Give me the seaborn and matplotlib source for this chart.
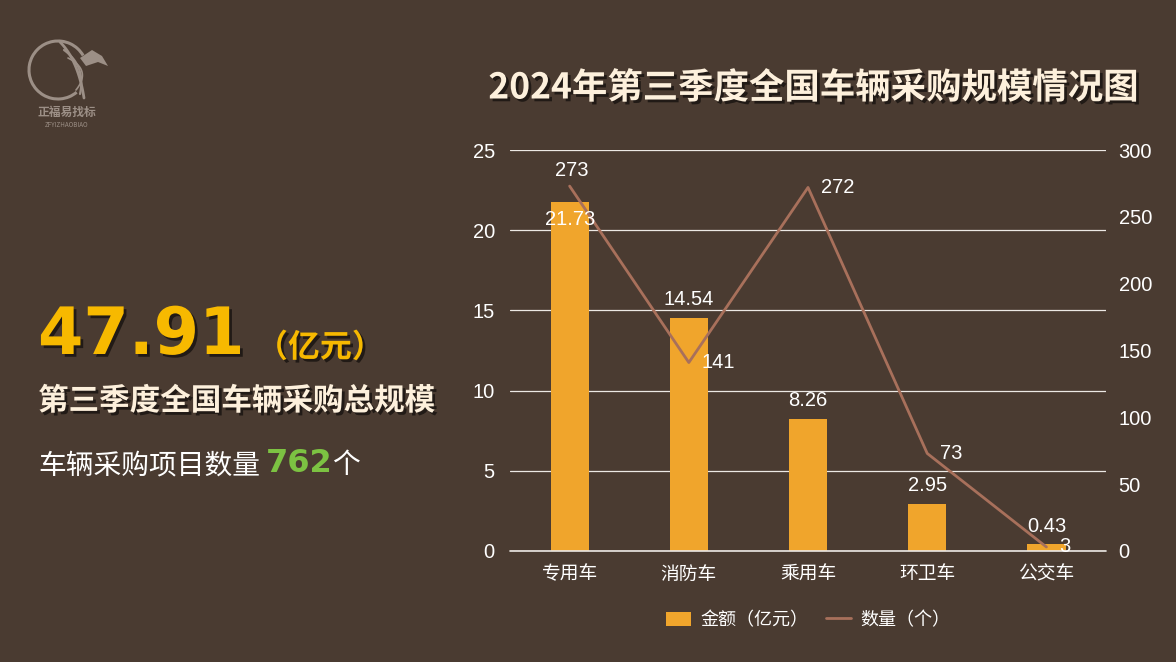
import matplotlib
matplotlib.use('Agg')
import matplotlib.pyplot as plt
import matplotlib.patheffects as pe
from matplotlib.patches import Arc, Rectangle, Polygon
from matplotlib.lines import Line2D
import seaborn as sns
import pandas as pd
import numpy as np

# ---------------- data ----------------
categories = ['专用车', '消防车', '乘用车', '环卫车', '公交车']
amounts = [21.73, 14.54, 8.26, 2.95, 0.43]          # 金额（亿元）
counts = [273, 141, 272, 73, 3]                      # 数量（个）
amount_ticks = [0, 5, 10, 15, 20, 25]
count_ticks = [0, 50, 100, 150, 200, 250, 300]
total_amount = '47.91'
total_projects = '762'

# ---------------- style ----------------
BG = '#4a3b31'
BAR = '#f0a52c'
LINE = '#a8705b'
CREAM = '#fdf0dc'
WHITE = '#ffffff'
GRID = '#ece8e4'
NUMFONT = ['Liberation Sans', 'DejaVu Sans']

sns.set_theme(style='white')
plt.rcParams['font.family'] = ['Noto Sans CJK SC', 'DejaVu Sans']
plt.rcParams['axes.unicode_minus'] = False

fig = plt.figure(figsize=(11.76, 6.62), dpi=100, facecolor=BG)

# overlay in pixel coordinates for free text / logo
ov = fig.add_axes([0, 0, 1, 1], zorder=0)
ov.set_xlim(0, 1176)
ov.set_ylim(662, 0)
ov.axis('off')

# ---------------- main chart ----------------
ax = fig.add_axes([0.4337, 0.1677, 0.5068, 0.6057], zorder=2)
ax.set_facecolor('none')
df = pd.DataFrame({'cat': categories, 'amount': amounts, 'count': counts})
sns.barplot(data=df, x='cat', y='amount', color=BAR, saturation=1,
            width=0.32, linewidth=0, edgecolor='none', ax=ax, zorder=3)
ax.set_xlim(-0.5, 4.5)
ax.set_ylim(0, 25)
ax.set_yticks(amount_ticks)
ax.set_xlabel('')
ax.set_ylabel('')
ax.grid(axis='y', color=GRID, lw=0.9, zorder=0)
ax.set_axisbelow(True)
ax.axhline(0, color=GRID, lw=1.2, clip_on=False, zorder=4)
for s in ax.spines.values():
    s.set_visible(False)
ax.tick_params(axis='y', length=0, pad=11, labelsize=14.5, labelcolor=WHITE)
ax.tick_params(axis='x', length=0, pad=9, labelsize=13.5, labelcolor=WHITE)
for lab in ax.get_yticklabels():
    lab.set_family(NUMFONT)

ax2 = ax.twinx()
ax2.set_zorder(3)
ax2.set_facecolor('none')
sns.lineplot(x=np.arange(len(categories)), y=counts, ax=ax2, color=LINE,
             lw=2.0, zorder=4)
ax2.set_ylim(0, 300)
ax2.set_yticks(count_ticks)
ax2.set_ylabel('')
for s in ax2.spines.values():
    s.set_visible(False)
ax2.tick_params(axis='y', length=0, pad=9, labelsize=14.5, labelcolor=WHITE)
for lab in ax2.get_yticklabels():
    lab.set_family(NUMFONT)
ax2.grid(False)

# bar value labels (drawn on top axes so they sit above the line)
bar_label_inside = [True, False, False, False, False]
for i, v in enumerate(amounts):
    off = -12 if bar_label_inside[i] else 13
    ax2.annotate(f'{v:.2f}', (i, v), xycoords=ax.transData, xytext=(0, off),
                 textcoords='offset points', ha='center', va='center',
                 color=WHITE, fontsize=14.5, family=NUMFONT, zorder=6)

# line value labels
line_label_above = [True, False, False, False, False]
for i, v in enumerate(counts):
    if line_label_above[i]:
        ax2.annotate(f'{v}', (i, v), xytext=(1.5, 11), textcoords='offset points',
                     ha='center', va='center', color=WHITE, fontsize=14.5,
                     family=NUMFONT, zorder=6)
    else:
        ax2.annotate(f'{v}', (i, v), xytext=(9, 0), textcoords='offset points',
                     ha='left', va='center', color=WHITE, fontsize=14.5,
                     family=NUMFONT, zorder=6)

# legend
handles = [Rectangle((0, 0), 1, 1, facecolor=BAR, edgecolor='none'),
           Line2D([0], [0], color=LINE, lw=2.0)]
fig.legend(handles, ['金额（亿元）', '数量（个）'], loc='center',
           bbox_to_anchor=(808 / 1176, 1 - 620 / 662), ncol=2, frameon=False,
           fontsize=13, labelcolor=WHITE, handlelength=1.4, handleheight=0.8,
           columnspacing=1.0, handletextpad=0.5)

# ---------------- title ----------------
shadow = [pe.withSimplePatchShadow(offset=(2, -2), shadow_rgbFace='black', alpha=0.55)]
ov.text(813, 88, '2024年第三季度全国车辆采购规模情况图', ha='center', va='center',
        fontsize=25.5, fontweight='bold', color=CREAM, path_effects=shadow)

# ---------------- left summary ----------------
ov.text(38, 336, total_amount, ha='left', va='center', fontsize=47,
        fontweight='bold', color='#f7b900', family=['DejaVu Sans'],
        path_effects=shadow)
ov.text(256, 348, '（亿元）', ha='left', va='center', fontsize=23,
        fontweight='bold', color='#f7b900', path_effects=shadow)
ov.text(38, 401, '第三季度全国车辆采购总规模', ha='left', va='center', fontsize=22,
        fontweight='bold', color=CREAM, path_effects=shadow)
ov.text(38, 465, '车辆采购项目数量', ha='left', va='center', fontsize=20,
        color=WHITE)
ov.text(266, 463, total_projects, ha='left', va='center', fontsize=23,
        fontweight='bold', color='#7cc242', family=['DejaVu Sans'])
ov.text(332, 465, '个', ha='left', va='center', fontsize=20, color=WHITE)

# ---------------- logo ----------------
LOGO = '#9c8f86'
ov.add_patch(Arc((58, 70), 58, 58, theta1=50, theta2=330, color=LOGO, lw=2.2))
t = np.linspace(0, 1, 60)
for k, (x0, y0, x1, y1, cx, cy) in enumerate([
        (60, 42, 84, 98, 78, 60), (64, 50, 80, 94, 86, 66),
        (68, 58, 76, 90, 92, 70)]):
    xs = (1 - t) ** 2 * x0 + 2 * (1 - t) * t * cx + t ** 2 * x1
    ys = (1 - t) ** 2 * y0 + 2 * (1 - t) * t * cy + t ** 2 * y1
    ov.plot(xs, ys, color=LOGO, lw=2.0 - 0.4 * k, solid_capstyle='round')
ov.add_patch(Polygon([[80, 58], [92, 50], [102, 56], [108, 66], [98, 62], [86, 66]],
                     closed=True, facecolor=LOGO, edgecolor='none'))
ov.text(67, 112, '正福易找标', ha='center', va='center', fontsize=8.5,
        color=LOGO, fontweight='bold')
ov.text(67, 125, 'ZFYIZHAOBIAO', ha='center', va='center', fontsize=4.5,
        color=LOGO)

fig.savefig('out.png', dpi=100, facecolor=BG)
